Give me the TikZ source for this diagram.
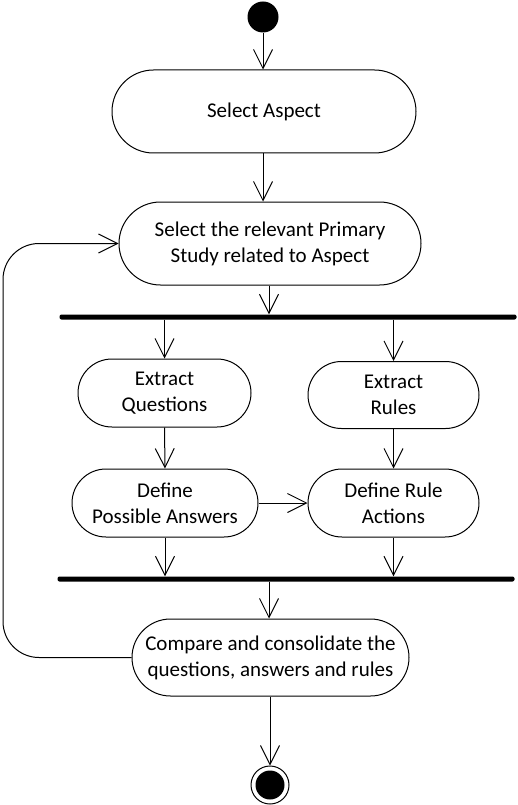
\documentclass[tikz,border=0pt]{standalone}
\usepackage{fontspec}
\setmainfont{Carlito}
\usetikzlibrary{arrows.meta,shapes.misc}
\begin{document}
\begin{tikzpicture}[x=1pt,y=-1pt,
  act/.style={draw, line width=1pt, rounded rectangle, align=center, inner sep=0pt,
    font=\fontsize{21}{26}\selectfont},
  bar/.style={fill=black, rectangle, rounded corners=2pt, minimum height=5pt, inner sep=0pt},
  flow/.style={draw, line width=1pt, -{Straight Barb[length=19pt,width=19pt,line width=1pt]}},
  plain/.style={draw, line width=1pt}]
\useasboundingbox (0,0) rectangle (518,805);
\node[circle, fill=black, minimum size=31pt, inner sep=0pt] (start) at (263,17) {};
\node[act, minimum width=304pt, minimum height=83pt] (sa) at (264,111.5) {Select Aspect};
\node[act, minimum width=302pt, minimum height=83pt] (sr) at (270,243.5) {Select the relevant Primary\\Study related to Aspect};
\node[bar, minimum width=457pt] (fork) at (288,317) {};
\node[act, minimum width=173pt, minimum height=68pt] (eq) at (164.5,393) {Extract\\Questions};
\node[act, minimum width=171pt, minimum height=67pt] (er) at (393.5,395) {Extract\\Rules};
\node[act, minimum width=186pt, minimum height=68pt] (dpa) at (165,503) {Define\\Possible Answers};
\node[act, minimum width=171pt, minimum height=68pt] (dra) at (393.5,503) {Define Rule\\Actions};
\node[bar, minimum width=457pt] (join) at (286,579) {};
\node[act, minimum width=277pt, minimum height=77pt] (cmp) at (270.5,657.5) {Compare and consolidate the\\questions, answers and rules};
\node[circle, draw, line width=1pt, minimum size=38pt, inner sep=0pt] (end) at (270,785) {};
\node[circle, fill=black, minimum size=29pt, inner sep=0pt] at (end.center) {};

\path[flow] (start.south) -- (start.south |- sa.north);
\path[flow] (start.south |- sa.south) -- (start.south |- sr.north);
\path[flow] ([xshift=-1pt]sr.south) -- ([xshift=-1pt]sr.south |- fork.north);
\path[flow] (eq.north |- fork.south) -- (eq.north);
\path[flow] (er.north |- fork.south) -- (er.north);
\path[flow] (eq.south) -- (dpa.north);
\path[flow] (er.south) -- (dra.north);
\path[flow] (dpa.east) -- (dra.west);
\path[flow] (dpa.south) -- (dpa.south |- join.north);
\path[flow] (dra.south) -- (dra.south |- join.north);
\path[flow] ([xshift=-1.5pt]cmp.north |- join.south) -- ([xshift=-1.5pt]cmp.north);
\path[flow] ([xshift=-0.5pt]cmp.south) -- (end.north);
\coordinate (lx) at (3,0);
\path[flow, rounded corners=36pt] (cmp.west) -- (cmp.west -| lx) -- (sr.west -| lx) -- (sr.west);
\end{tikzpicture}
\end{document}
